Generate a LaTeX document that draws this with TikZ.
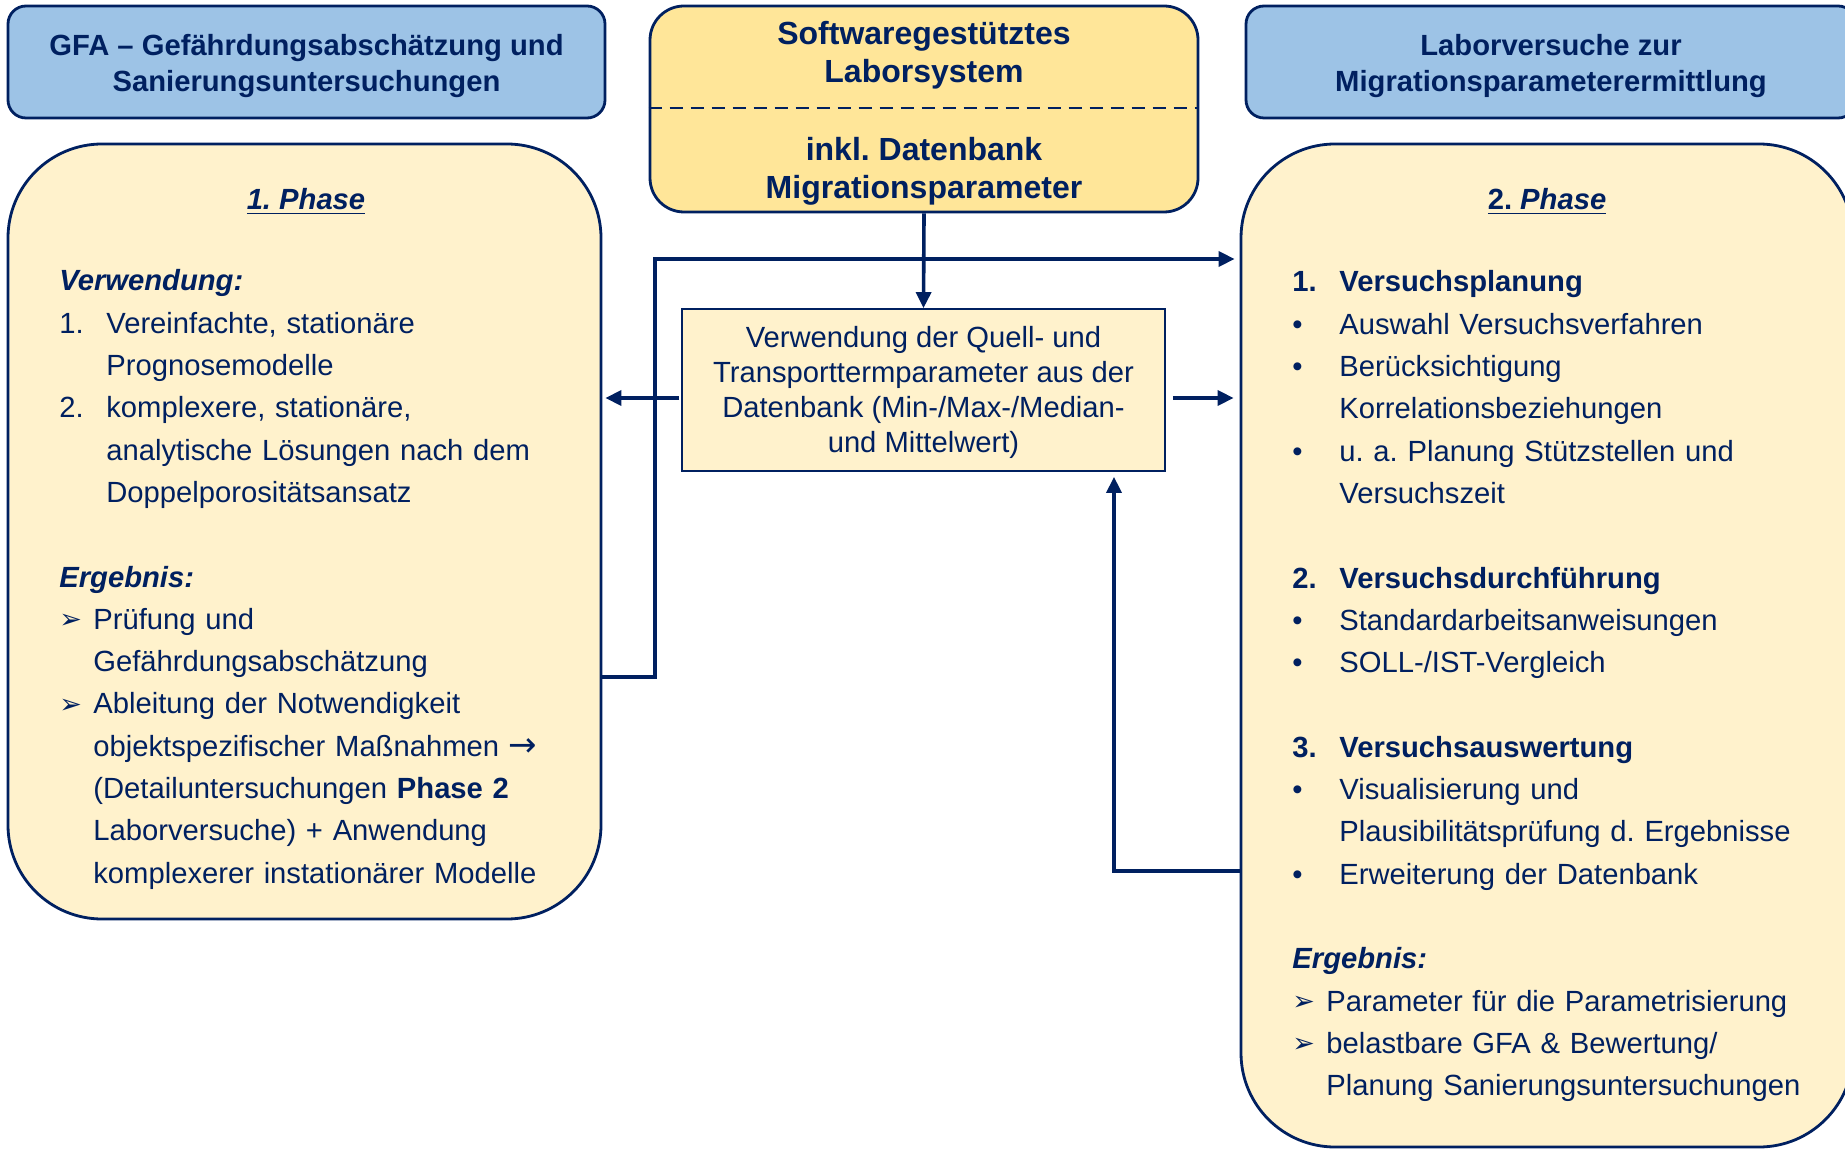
\documentclass[tikz,border=0pt]{standalone}
\usepackage{fontspec}
\setmainfont{Liberation Sans}
\newfontfamily\symfont{DejaVu Sans}
\usetikzlibrary{arrows.meta}
\definecolor{navy}{HTML}{002060}
\definecolor{hdrblue}{HTML}{9DC3E6}
\definecolor{topyellow}{HTML}{FFE699}
\definecolor{paleyellow}{HTML}{FFF2CC}
\frenchspacing
\newcommand\NumItem[1]{\makebox[23.5pt][l]{#1}}
\newcommand\NumCont{\hspace*{23.5pt}}
\newcommand\ArrItem{\makebox[17pt][l]{\raisebox{0.3pt}{\symfont\fontsize{13.5pt}{13.5pt}\selectfont ➢}}}
\newcommand\ArrCont{\hspace*{17pt}}
\newcommand\RArrow{{\symfont\fontsize{17pt}{17pt}\selectfont →}}
\tikzset{
  hdr/.style={draw=navy, line width=1.4pt, fill=hdrblue, rounded corners=9pt, inner sep=0pt,
    text=navy, align=center, font=\bfseries\fontsize{14.6pt}{18.3pt}\selectfont},
  topbox/.style={draw=navy, line width=1.4pt, fill=topyellow, rounded corners=17pt, inner sep=0pt},
  toptext/.style={text=navy, align=center, inner sep=0pt, font=\bfseries\fontsize{16pt}{19pt}\selectfont},
  phasebox/.style={draw=navy, line width=1.4pt, fill=paleyellow, rounded corners=47pt, inner sep=0pt},
  midbox/.style={draw=navy, line width=0.9pt, fill=paleyellow, text=navy, align=center, inner sep=0pt,
    font=\fontsize{14.6pt}{17.6pt}\selectfont},
  phasetitle/.style={text=navy, inner sep=0pt, anchor=base, font=\fontsize{14.6pt}{18pt}\selectfont},
  bodytext/.style={text=navy, align=left, text width=300pt, inner sep=0pt, anchor=base west,
    font=\fontsize{14.6pt}{21.15pt}\selectfont},
  conn/.style={draw=navy, line width=1.8pt},
  arr/.style={-{Triangle[length=8pt,width=7.5pt]}},
}
\begin{document}
\begin{tikzpicture}[x=0.5pt,y=-0.5pt]
\useasboundingbox (0,0) rectangle (1845,1149);

% header boxes
\node[hdr, minimum width=298.5pt, minimum height=56pt] (lhdr) at (306.5,62) {};
\node[hdr, fill=none, draw=none] (lhdrtxt) at (306.5,66)
  {GFA – Gefährdungsabschätzung und\\Sanierungsuntersuchungen};
\node[hdr, minimum width=305pt, minimum height=56pt] (rhdr) at (1551,62) {};
\node[hdr, fill=none, draw=none] (rhdrtxt) at (1551,66)
  {Laborversuche zur\\Migrationsparameterermittlung};

% top centre box
\node[topbox, minimum width=274pt, minimum height=103pt] (top) at (924,109) {};
\draw[navy, line width=1pt, dash pattern=on 6.5pt off 4pt] (top.west |- 0,108) -- (top.east |- 0,108);
\node[toptext] (toptxt1) at (924,55) {Softwaregestütztes\\Laborsystem};
\node[toptext] (toptxt2) at (924,171) {inkl. Datenbank\\Migrationsparameter};

% phase boxes
\node[phasebox, minimum width=296.5pt, minimum height=387.5pt] (lphase) at (304.5,531.5) {};
\node[phasebox, minimum width=306pt, minimum height=501.5pt] (rphase) at (1547,645.5) {};

% middle box
\node[midbox, minimum width=241.5pt, minimum height=81pt] (mid) at (923.5,390) {};
\node[midbox, fill=none, draw=none] (midtxt) at (923.5,392.5)
  {Verwendung der Quell- und\\Transporttermparameter aus der\\Datenbank (Min-/Max-/Median-\\und Mittelwert)};

% phase titles
\node[phasetitle] (ltitle) at (306,210) {\underline{\textbf{\textit{1. Phase}}}};
\node[phasetitle] (rtitle) at (1547,210) {\underline{\textbf{2. \textit{Phase}}}};

% left body
\node[bodytext] (lbody) at (59,291) {%
\textbf{\textit{Verwendung:}}\\
\NumItem{1.}Vereinfachte, stationäre\\
\NumCont Prognosemodelle\\
\NumItem{2.}komplexere, stationäre,\\
\NumCont analytische Lösungen nach dem\\
\NumCont Doppelporositätsansatz\\
\mbox{}\\
\textbf{\textit{Ergebnis:}}\\
\ArrItem Prüfung und\\
\ArrCont Gefährdungsabschätzung\\
\ArrItem Ableitung der Notwendigkeit\\
\ArrCont objektspezifischer Maßnahmen \RArrow\\
\ArrCont (Detailuntersuchungen \textbf{Phase 2}\\
\ArrCont Laborversuche) + Anwendung\\
\ArrCont komplexerer instationärer Modelle};

% right body
\node[bodytext] (rbody) at (1292,292) {%
\textbf{\NumItem{1.}Versuchsplanung}\\
\NumItem{•}Auswahl Versuchsverfahren\\
\NumItem{•}Berücksichtigung\\
\NumCont Korrelationsbeziehungen\\
\NumItem{•}u. a. Planung Stützstellen und\\
\NumCont Versuchszeit\\
\mbox{}\\
\textbf{\NumItem{2.}Versuchsdurchführung}\\
\NumItem{•}Standardarbeitsanweisungen\\
\NumItem{•}SOLL-/IST-Vergleich\\
\mbox{}\\
\textbf{\NumItem{3.}Versuchsauswertung}\\
\NumItem{•}Visualisierung und\\
\NumCont Plausibilitätsprüfung d. Ergebnisse\\
\NumItem{•}Erweiterung der Datenbank\\
\mbox{}\\
\textbf{\textit{Ergebnis:}}\\
\ArrItem Parameter für die Parametrisierung\\
\ArrItem belastbare GFA \& Bewertung/\\
\ArrCont Planung Sanierungsuntersuchungen};

% connectors
\coordinate (ya) at (0,398);
\coordinate (jL) at (655,677);
\coordinate (jT) at (655,259);
\coordinate (jR) at (1114,871);

\draw[conn, arr] (top.south) -- (mid.north);
\draw[conn, arr, shorten >=2.5pt] (lphase.east |- jL) -- (jL) -- (jT) -- (rphase.west |- jT);
\draw[conn, arr, shorten <=1pt, shorten >=1.5pt] (mid.west |- ya) -- (lphase.east |- ya);
\draw[conn, arr, shorten <=3.5pt, shorten >=3pt] (mid.east |- ya) -- (rphase.west |- ya);
\draw[conn, arr, shorten >=2.5pt] (rphase.west |- jR) -- (jR) -- (jR |- mid.south);
\end{tikzpicture}
\end{document}
